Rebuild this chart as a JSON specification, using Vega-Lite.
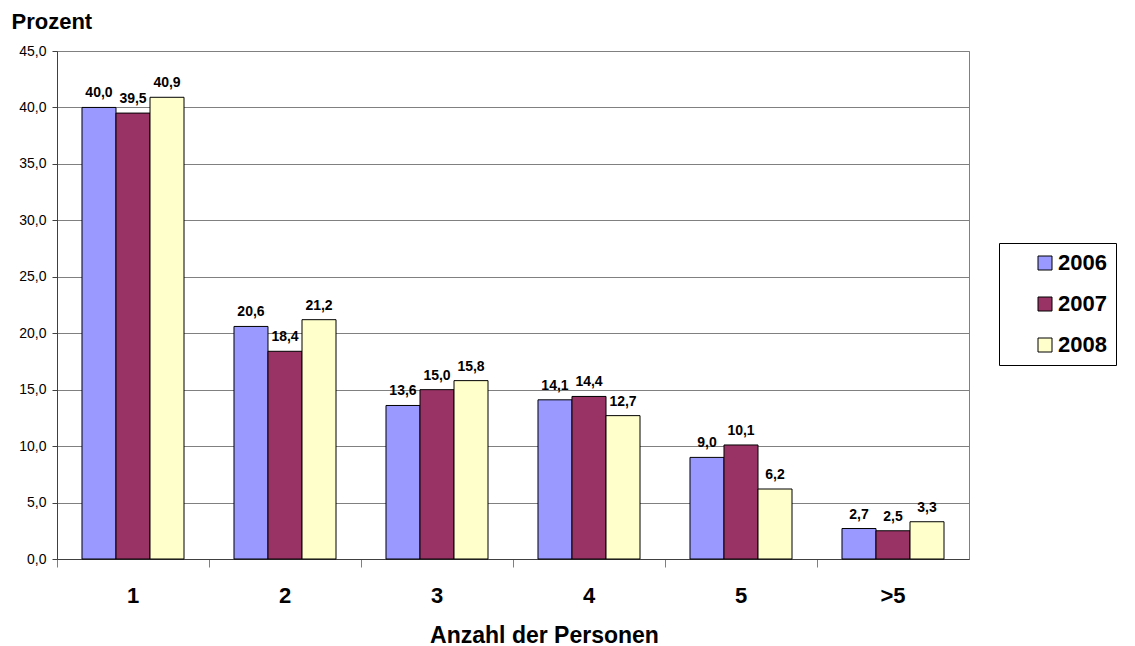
{
  "$schema": "https://vega.github.io/schema/vega-lite/v6.json",
  "width": 912,
  "height": 508,
  "autosize": {"type": "none"},
  "padding": {"left": 57, "top": 51, "right": 166, "bottom": 87},
  "background": "white",
  "config": {
    "font": "Liberation Sans",
    "locale": {"number": {"decimal": ",", "thousands": ".", "grouping": [3], "currency": ["", " €"]}},
    "view": {"stroke": "#808080", "strokeWidth": 1}
  },
  "data": {
    "values": [
      {"cat": "1", "year": "2006", "value": 40.0},
      {"cat": "1", "year": "2007", "value": 39.5},
      {"cat": "1", "year": "2008", "value": 40.9},
      {"cat": "2", "year": "2006", "value": 20.6},
      {"cat": "2", "year": "2007", "value": 18.4},
      {"cat": "2", "year": "2008", "value": 21.2},
      {"cat": "3", "year": "2006", "value": 13.6},
      {"cat": "3", "year": "2007", "value": 15.0},
      {"cat": "3", "year": "2008", "value": 15.8},
      {"cat": "4", "year": "2006", "value": 14.1},
      {"cat": "4", "year": "2007", "value": 14.4},
      {"cat": "4", "year": "2008", "value": 12.7},
      {"cat": "5", "year": "2006", "value": 9.0},
      {"cat": "5", "year": "2007", "value": 10.1},
      {"cat": "5", "year": "2008", "value": 6.2},
      {"cat": ">5", "year": "2006", "value": 2.7},
      {"cat": ">5", "year": "2007", "value": 2.5},
      {"cat": ">5", "year": "2008", "value": 3.3}
    ]
  },
  "encoding": {
    "x": {
      "field": "cat",
      "type": "nominal",
      "sort": null,
      "scale": {"paddingInner": 0, "paddingOuter": 0},
      "axis": {
        "title": "Anzahl der Personen",
        "titleFontSize": 23,
        "titleFontWeight": "bold",
        "titleColor": "black",
        "titleAlign": "center",
        "titleBaseline": "alphabetic",
        "titleX": 487,
        "titleY": 83,
        "labelAngle": 0,
        "labelFontSize": 22,
        "labelFontWeight": "bold",
        "labelColor": "black",
        "labelBaseline": "alphabetic",
        "labelPadding": 35,
        "bandPosition": 0,
        "tickSize": 8,
        "tickColor": "#808080",
        "domainColor": "#404040",
        "grid": false
      }
    },
    "xOffset": {
      "field": "year",
      "type": "nominal",
      "scale": {"paddingInner": 0, "paddingOuter": 0.735}
    },
    "y": {
      "field": "value",
      "type": "quantitative",
      "scale": {"domain": [0, 45]},
      "axis": {
        "values": [0, 5, 10, 15, 20, 25, 30, 35, 40, 45],
        "format": ".1f",
        "labelFontSize": 14,
        "labelColor": "black",
        "labelPadding": 6,
        "tickSize": 5,
        "tickColor": "#404040",
        "domainColor": "#404040",
        "gridColor": "#808080",
        "gridOpacity": 1,
        "title": "Prozent",
        "titleAngle": 0,
        "titleAlign": "left",
        "titleBaseline": "alphabetic",
        "titleX": -46,
        "titleY": -23,
        "titleFontSize": 22,
        "titleFontWeight": "bold",
        "titleColor": "black"
      }
    }
  },
  "layer": [
    {
      "mark": {"type": "bar", "stroke": "black", "strokeWidth": 1},
      "encoding": {
        "color": {
          "field": "year",
          "type": "nominal",
          "scale": {"domain": ["2006", "2007", "2008"], "range": ["#9999FF", "#993366", "#FFFFCC"]},
          "legend": {
            "title": null,
            "orient": "none",
            "legendX": 942,
            "legendY": 192,
            "strokeColor": "black",
            "fillColor": "white",
            "padding": 9,
            "symbolType": "square",
            "symbolSize": 196,
            "symbolStrokeColor": "black",
            "symbolStrokeWidth": 1,
            "symbolOffset": 26,
            "labelFontSize": 22,
            "labelFontWeight": "bold",
            "labelColor": "black",
            "labelOffset": 2,
            "labelExpr": "datum.label + '\u00a0\u00a0\u00a0\u00a0'",
            "rowPadding": 19
          }
        }
      }
    },
    {
      "mark": {"type": "text", "baseline": "alphabetic", "dy": -10, "fontSize": 14, "fontWeight": "bold", "color": "black"},
      "encoding": {
        "text": {"field": "value", "type": "quantitative", "format": ".1f"}
      }
    }
  ]
}
